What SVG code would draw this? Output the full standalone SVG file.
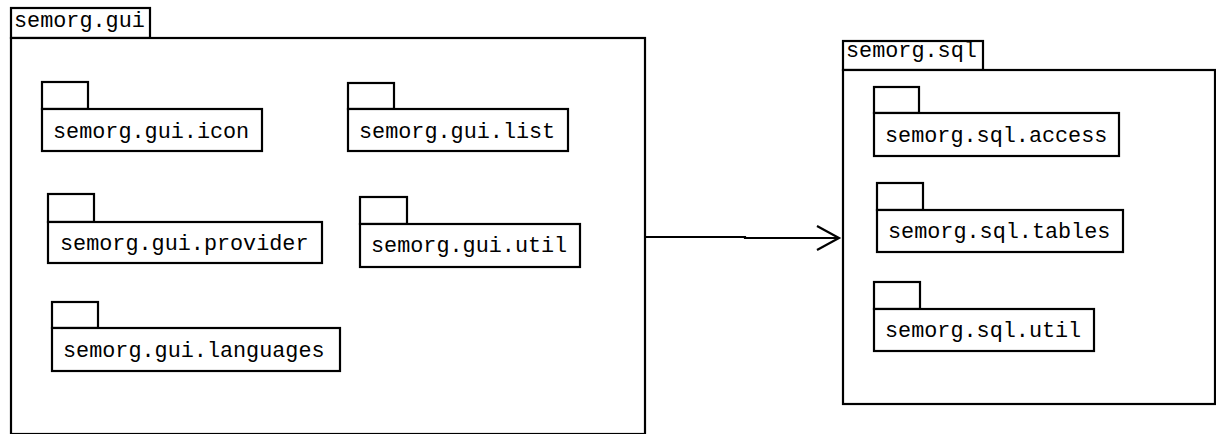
<svg xmlns="http://www.w3.org/2000/svg" width="1216" height="434" viewBox="0 0 1216 434">
  <style>
    .box { fill: #fff; stroke: #000; stroke-width: 2.2; }
    .lbl { font-family: "Liberation Mono", "Courier New", monospace; font-size: 21.8px; fill: #000; }
    .conn { fill: none; stroke: #000; stroke-width: 2.2; }
  </style>
  <rect x="0" y="0" width="1216" height="434" fill="#fff"/>

  <!-- package semorg.gui -->
  <g id="pkg-gui">
    <rect class="box" x="11" y="8" width="139" height="30"/>
    <rect class="box" x="11" y="38" width="634" height="396"/>
    <text class="lbl" x="14" y="27">semorg.gui</text>
  </g>
  <g id="pkg-gui-icon">
    <rect class="box" x="42" y="82" width="46" height="27"/>
    <rect class="box" x="42" y="109" width="220" height="42"/>
    <text class="lbl" x="53" y="138">semorg.gui.icon</text>
  </g>
  <g id="pkg-gui-list">
    <rect class="box" x="348" y="83" width="46" height="26"/>
    <rect class="box" x="348" y="109" width="220" height="42"/>
    <text class="lbl" x="359" y="138">semorg.gui.list</text>
  </g>
  <g id="pkg-gui-provider">
    <rect class="box" x="48" y="194" width="46" height="28"/>
    <rect class="box" x="48" y="222" width="274" height="41"/>
    <text class="lbl" x="60" y="250">semorg.gui.provider</text>
  </g>
  <g id="pkg-gui-util">
    <rect class="box" x="360" y="197" width="47" height="27"/>
    <rect class="box" x="360" y="224" width="220" height="43"/>
    <text class="lbl" x="371" y="252">semorg.gui.util</text>
  </g>
  <g id="pkg-gui-languages">
    <rect class="box" x="52" y="302" width="46" height="26"/>
    <rect class="box" x="52" y="328" width="288" height="43"/>
    <text class="lbl" x="63" y="357">semorg.gui.languages</text>
  </g>

  <!-- package semorg.sql -->
  <g id="pkg-sql">
    <rect class="box" x="843" y="41" width="140" height="29"/>
    <rect class="box" x="843" y="70" width="372" height="334"/>
    <text class="lbl" x="846" y="57">semorg.sql</text>
  </g>
  <g id="pkg-sql-access">
    <rect class="box" x="874" y="87" width="45" height="26"/>
    <rect class="box" x="874" y="113" width="245" height="43"/>
    <text class="lbl" x="885" y="142">semorg.sql.access</text>
  </g>
  <g id="pkg-sql-tables">
    <rect class="box" x="877" y="183" width="46" height="27"/>
    <rect class="box" x="877" y="210" width="246" height="42"/>
    <text class="lbl" x="888" y="238">semorg.sql.tables</text>
  </g>
  <g id="pkg-sql-util">
    <rect class="box" x="874" y="282" width="46" height="27"/>
    <rect class="box" x="874" y="309" width="220" height="42"/>
    <text class="lbl" x="885" y="337">semorg.sql.util</text>
  </g>

  <!-- dependency: semorg.gui uses semorg.sql -->
  <g id="connectors">
    <polyline class="conn" points="645,237 745,237 745,238 839,238"/>
    <polyline class="conn" points="817,226 839,238 817,250"/>
  </g>
</svg>
